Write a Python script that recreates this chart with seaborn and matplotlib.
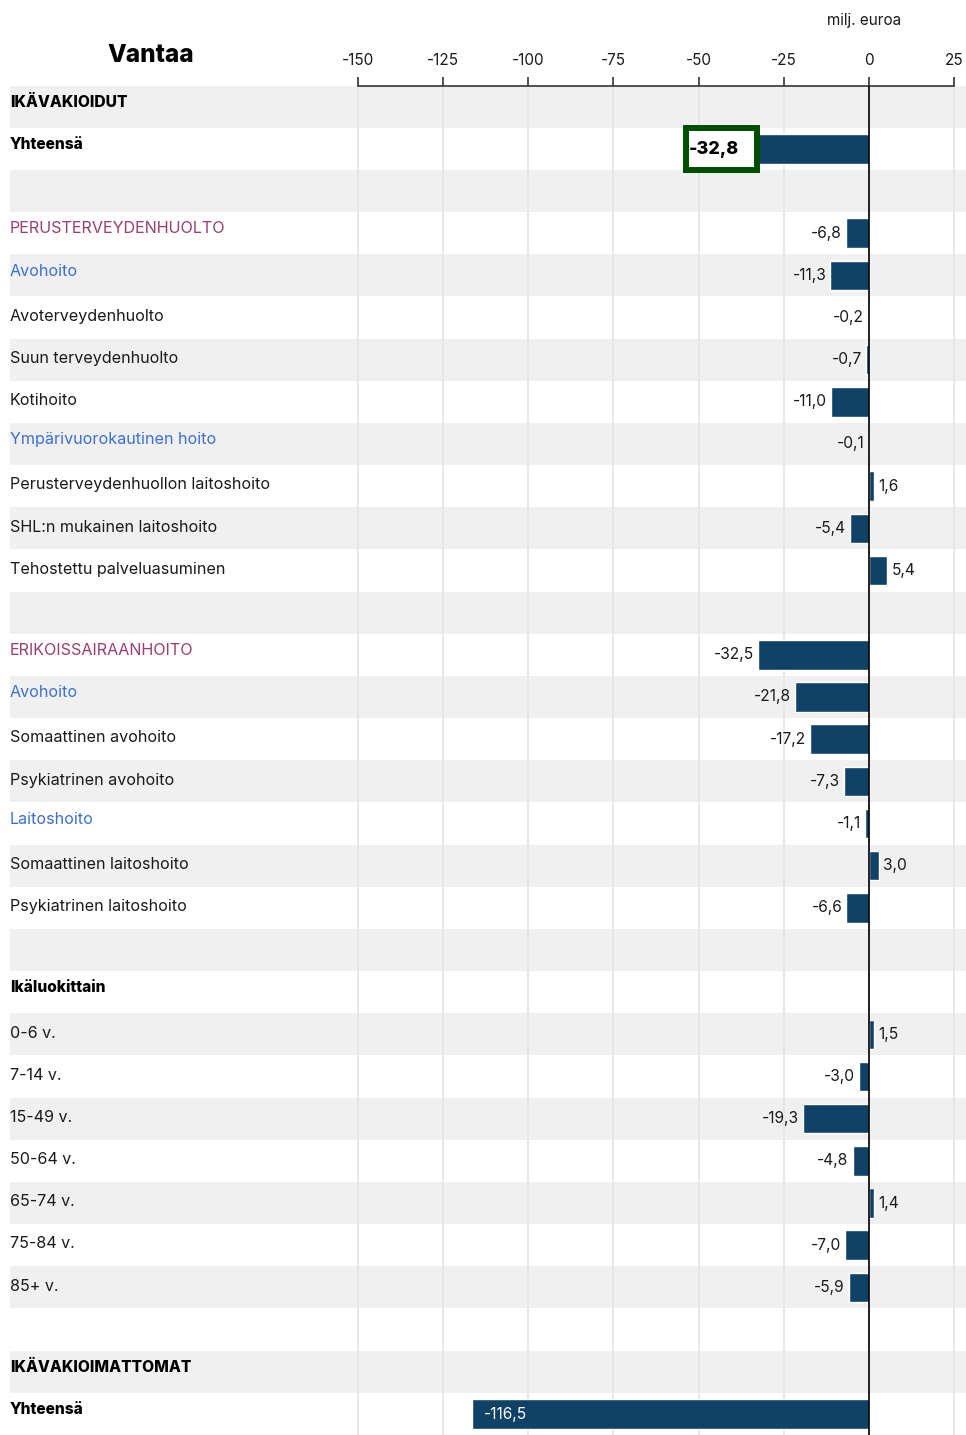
import numpy as np
import pandas as pd
import matplotlib.pyplot as plt
from matplotlib.patches import Rectangle
import seaborn as sns

# rivit ylhäältä alas
labels = ["IKÄVAKIOIDUT", "Yhteensä", "",
          "PERUSTERVEYDENHUOLTO", "Avohoito", "Avoterveydenhuolto",
          "Suun terveydenhuolto", "Kotihoito", "Ympärivuorokautinen hoito",
          "Perusterveydenhuollon laitoshoito", "SHL:n mukainen laitoshoito",
          "Tehostettu palveluasuminen", "",
          "ERIKOISSAIRAANHOITO", "Avohoito", "Somaattinen avohoito",
          "Psykiatrinen avohoito", "Laitoshoito", "Somaattinen laitoshoito",
          "Psykiatrinen laitoshoito", "",
          "Ikäluokittain", "0-6 v.", "7-14 v.", "15-49 v.", "50-64 v.",
          "65-74 v.", "75-84 v.", "85+ v.", "",
          "IKÄVAKIOIMATTOMAT", "Yhteensä"]
values = [np.nan, -32.8, np.nan,
          -6.8, -11.3, -0.2, -0.7, -11.0, -0.1, 1.6, -5.4, 5.4, np.nan,
          -32.5, -21.8, -17.2, -7.3, -1.1, 3.0, -6.6, np.nan,
          np.nan, 1.5, -3.0, -19.3, -4.8, 1.4, -7.0, -5.9, np.nan,
          np.nan, -116.5]
kinds = ["head", "head", "",
         "sect", "sub", "item", "item", "item", "sub", "item", "item", "item", "",
         "sect", "sub", "item", "item", "sub", "item", "item", "",
         "head", "item", "item", "item", "item", "item", "item", "item", "",
         "head", "head"]
xticks = [-150, -125, -100, -75, -50, -25, 0, 25]

bar_color = "#0f4266"
text_colors = {"head": "black", "sect": "#9b3d6f", "sub": "#3a6fd8", "item": "#1a1a1a", "": "black"}

sns.set_theme(style="white")
plt.rcParams["font.family"] = ["Inter", "DejaVu Sans"]

df = pd.DataFrame({"row": [f"r{i}" for i in range(len(labels))],
                   "label": labels, "value": values})

fig = plt.figure(figsize=(9.66, 14.35), dpi=100)
ax = fig.add_axes([10 / 966, 0, 956 / 966, 1 - 85.5 / 1435])

# taustaraidat
for i in range(len(labels)):
    if i % 2 == 0:
        ax.axhspan(i - 0.5, i + 0.5, color="#f0f0f0", zorder=0, lw=0)

sns.barplot(data=df.dropna(), x="value", y="row", order=df["row"],
            color=bar_color, saturation=1, width=0.7, errorbar=None,
            orient="h", ax=ax, zorder=3)

px = 596 / 175  # pikseliä per yksikkö
ax.set_xlim(-150 - 348 / px, 25 + 12 / px)
ax.set_ylim(len(labels) - 0.5, -0.5)
ax.set_yticks([])
ax.set_ylabel("")
ax.set_xlabel("")

ax.xaxis.tick_top()
ax.set_xticks(xticks)
ax.set_xticklabels([str(t) for t in xticks], fontsize=11, color="#1a1a1a")
ax.tick_params(axis="x", which="both", top=True, bottom=False, direction="out",
               length=6.5, width=1.2, color="#333333", pad=6)
ax.grid(axis="x", color="#e4e4e4", lw=1.2, zorder=1)
ax.grid(axis="y", visible=False)
for s in ["left", "right", "bottom"]:
    ax.spines[s].set_visible(False)
ax.spines["top"].set_bounds(-150, 25)
ax.spines["top"].set_color("#333333")
ax.spines["top"].set_linewidth(1.2)
ax.axvline(0, color="black", lw=1.2, zorder=4)

# rivien nimet
for i, (lab, k) in enumerate(zip(labels, kinds)):
    if not lab:
        continue
    dy = -0.03 if k == "item" else -0.1
    ax.text(0, i + dy, lab, transform=ax.get_yaxis_transform(),
            ha="left", va="center",
            fontsize=11.2 if k == "head" else 11.6,
            fontweight="heavy" if k == "head" else "normal",
            color=text_colors[k])

# arvot
for i, v in enumerate(values):
    if np.isnan(v):
        continue
    s = f"{v:.1f}".replace(".", ",")
    if i == 1:
        w = 71 / px
        ax.add_patch(Rectangle((v - w, i - 0.5), w, 1.0, facecolor="white",
                               edgecolor="#004d00", lw=4.3, zorder=5))
        ax.text(v - w + 3 / px, i + 0.02, s, ha="left", va="center",
                fontsize=13, fontweight="heavy", color="black", zorder=6)
    elif v < -100:
        ax.text(v + 12 / px, i + 0.02, s, ha="left", va="center",
                fontsize=11.2, color="white", zorder=6)
    elif v < 0:
        ax.annotate(s, (v, i), xytext=(-3, 0), textcoords="offset points",
                    ha="right", va="center", fontsize=11.2, color="#1a1a1a")
    else:
        ax.annotate(s, (v, i), xytext=(3, 0), textcoords="offset points",
                    ha="left", va="center", fontsize=11.2, color="#1a1a1a")

fig.text(151 / 966, 1 - 56 / 1435, "Vantaa", ha="center", va="center",
         fontsize=17.5, fontweight="heavy", color="black")
fig.text(864 / 966, 1 - 20 / 1435, "milj. euroa", ha="center", va="center",
         fontsize=11, color="#1a1a1a")

fig.savefig("out.png", dpi=100)
